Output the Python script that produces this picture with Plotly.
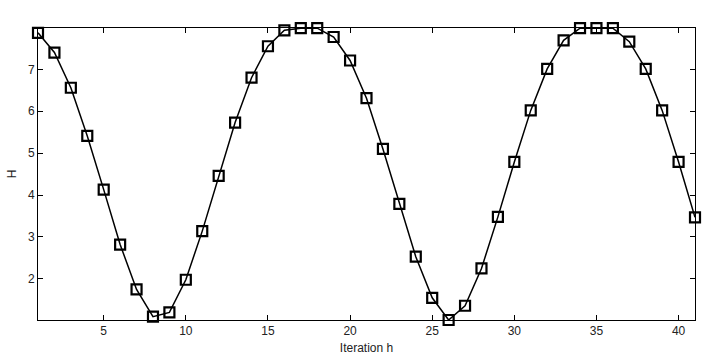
import plotly.graph_objects as go

iterations = list(range(1, 42))
H_values = [7.87, 7.40, 6.56, 5.41, 4.13, 2.82, 1.75, 1.10, 1.20, 1.98,
            3.14, 4.46, 5.73, 6.80, 7.55, 7.93, 7.98, 7.98, 7.77, 7.21,
            6.31, 5.10, 3.79, 2.53, 1.55, 1.02, 1.36, 2.25, 3.48, 4.79,
            6.02, 7.01, 7.69, 7.98, 7.98, 7.98, 7.66, 7.01, 6.02, 4.79,
            3.47]
x_ticks = [5, 10, 15, 20, 25, 30, 35, 40]
y_ticks = [2, 3, 4, 5, 6, 7]

fig = go.Figure()
fig.add_trace(go.Scatter(
    x=iterations, y=H_values, mode="lines+markers",
    line=dict(color="black", width=1.5),
    marker=dict(symbol="square-open", size=10, color="black", line=dict(width=2.2)),
    cliponaxis=False, showlegend=False,
))

axis_common = dict(
    showgrid=False, zeroline=False, showline=True, linecolor="black", linewidth=1,
    mirror="ticks", ticks="inside", ticklen=5, tickcolor="black", tickwidth=1,
    automargin=False,
    tickfont=dict(family="Liberation Sans", size=12, color="#222"),
)
fig.update_layout(
    width=707, height=359,
    margin=dict(l=38, r=12, t=28, b=39, autoexpand=False),
    paper_bgcolor="white", plot_bgcolor="white",
    xaxis=dict(range=[1, 41], tickvals=x_ticks,
               title=dict(text="Iteration h", standoff=6,
                          font=dict(family="Liberation Sans", size=12, color="#222")),
               **axis_common),
    yaxis=dict(range=[1.02, 7.985], tickvals=y_ticks,
               title=dict(text="H", standoff=8,
                          font=dict(family="Liberation Sans", size=12, color="#222")),
               **axis_common),
)
fig.write_html("out.html", config={"displayModeBar": False},
               post_script="document.body.style.margin='0';document.body.style.overflow='hidden';")
